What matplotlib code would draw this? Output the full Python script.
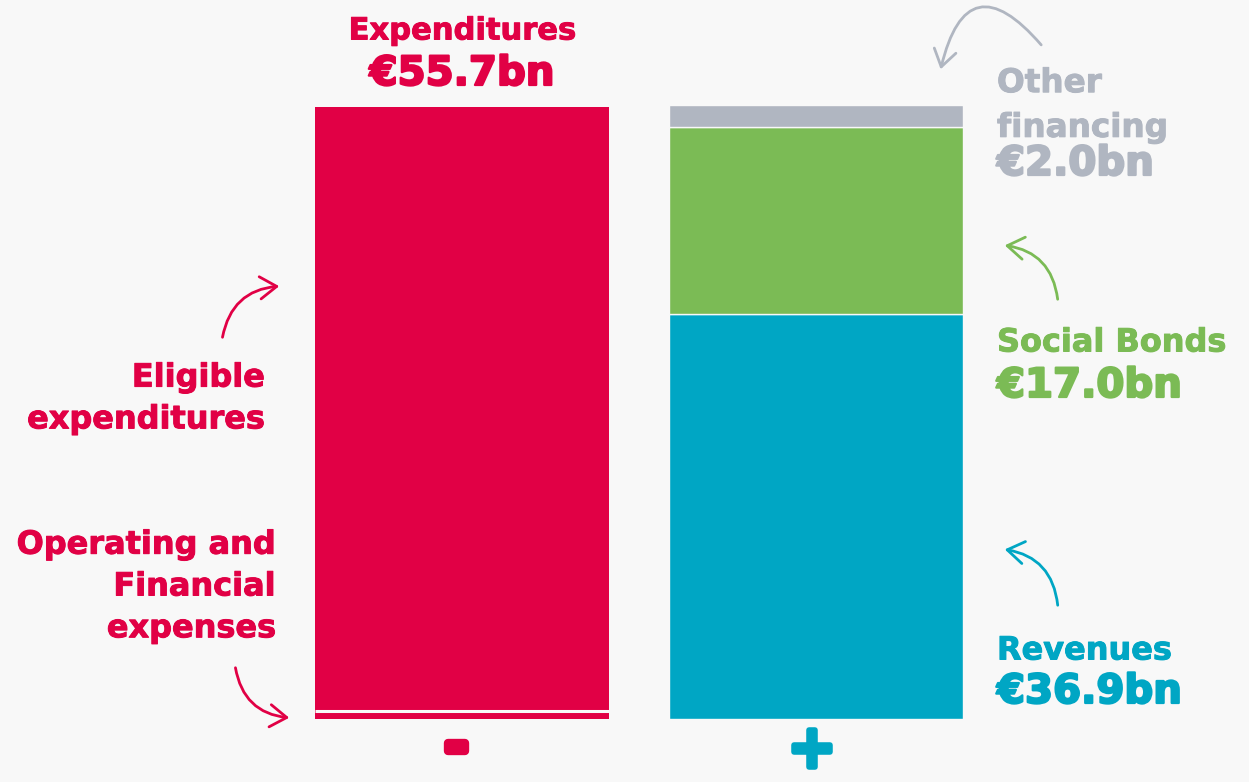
import matplotlib.pyplot as plt
import matplotlib.patheffects as pe
from matplotlib.patches import FancyArrowPatch

W, H = 1249, 782
BG = "#f8f8f8"
RED = "#e10045"
TEAL = "#00a6c4"
GREEN = "#7bbb55"
GREY = "#b0b6c1"

# data (EUR bn)
bars = ["-", "+"]
expend_labels = ["Operating and\nFinancial\nexpenses", "Eligible\nexpenditures"]
expend_values = [0.7, 55.0]
expend_total = 55.7
fund_labels = ["Revenues", "Social Bonds", "Other\nfinancing"]
fund_values = [36.9, 17.0, 2.0]


def fp(x, y):
    # pixel position -> figure fraction
    return x / W, 1 - y / H


def label(fig, x, y, s, c, size=23, ha='left', heavy=False):
    lw = 1.6 if heavy else 0.7
    fig.text(*fp(x, y), s, color=c, fontsize=size, fontweight='bold', ha=ha, va='center',
             linespacing=1.45, path_effects=[pe.withStroke(linewidth=lw, foreground=c)])


def main():
    plt.rcParams['font.family'] = ['DejaVu Sans']
    fig = plt.figure(figsize=(W / 100, H / 100), dpi=100, facecolor=BG)
    ax = fig.add_axes([315 / W, 1 - 719 / H, (963 - 315) / W, (719 - 105) / H])
    ax.set_facecolor(BG)
    width = 294 / 354
    ax.set_xlim(-width / 2, 1 + width / 2)
    ax.set_ylim(0, sum(fund_values))
    ax.axis('off')

    # left bar: expenditures
    bottom = 0
    for v in expend_values:
        ax.bar(0, v, width=width, bottom=bottom, color=RED, linewidth=0)
        bottom += v
    ax.plot([-width / 2, width / 2], [expend_values[0]] * 2, color=BG, linewidth=2.2,
            solid_capstyle='butt')

    # right bar: funding
    bottom = 0
    for v, c in zip(fund_values, [TEAL, GREEN, GREY]):
        ax.bar(1, v, width=width, bottom=bottom, color=c, edgecolor=BG, linewidth=1.0)
        bottom += v

    # headline
    label(fig, 462, 31, "Expenditures", RED, size=22, ha='center')
    label(fig, 462, 74, f"€{expend_total:.1f}bn", RED, size=29, ha='center', heavy=True)

    # left labels
    label(fig, 265, 399, expend_labels[1], RED, ha='right')
    label(fig, 276, 587, expend_labels[0], RED, ha='right')

    # right labels
    label(fig, 997, 105, fund_labels[2], GREY, size=23.5)
    label(fig, 997, 164, f"€{fund_values[2]:.1f}bn", GREY, size=29, heavy=True)
    label(fig, 997, 343, fund_labels[1], GREEN)
    label(fig, 997, 386, f"€{fund_values[1]:.1f}bn", GREEN, size=29, heavy=True)
    label(fig, 997, 651, fund_labels[0], TEAL)
    label(fig, 997, 692, f"€{fund_values[0]:.1f}bn", TEAL, size=29, heavy=True)

    # signs under bars
    fig.text(*fp(456, 748), bars[0], color=RED, fontsize=40, fontweight='bold', ha='center', va='center',
             path_effects=[pe.withStroke(linewidth=6, foreground=RED)])
    fig.text(*fp(812, 750), bars[1], color=TEAL, fontsize=42, fontweight='bold', ha='center', va='center',
             path_effects=[pe.withStroke(linewidth=4, foreground=TEAL)])

    # curved arrows
    arrows = [
        ((222, 340), (282, 286), RED, -0.4),
        ((235, 665), (292, 718), RED, 0.4),
        ((1043, 47), (940, 72), GREY, 1.0),
        ((1058, 302), (1002, 245), GREEN, 0.4),
        ((1058, 608), (1002, 549), TEAL, 0.4),
    ]
    for start, end, c, rad in arrows:
        fig.add_artist(FancyArrowPatch(
            fp(*start), fp(*end), transform=fig.transFigure,
            arrowstyle='->,head_length=6,head_width=4', mutation_scale=2,
            connectionstyle=f'arc3,rad={rad}', color=c, linewidth=2))

    fig.savefig("out.png", dpi=100, facecolor=BG)


if __name__ == '__main__':
    main()
